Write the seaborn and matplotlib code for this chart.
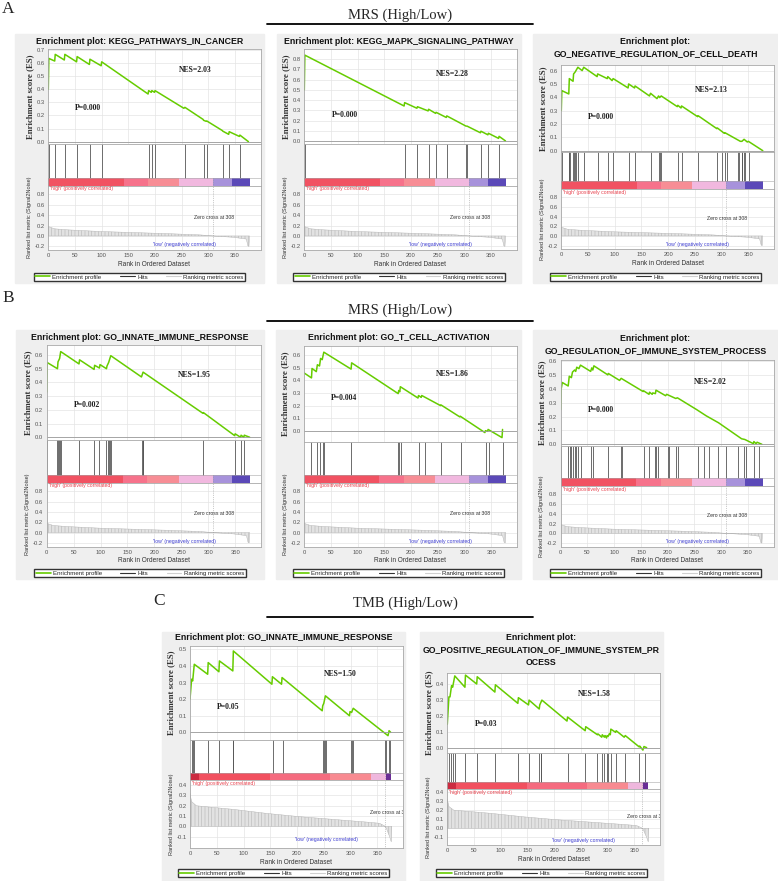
import matplotlib
matplotlib.use("Agg")
import matplotlib.pyplot as plt
from matplotlib.lines import Line2D
from matplotlib.patches import Rectangle
from matplotlib.ticker import FormatStrFormatter
import seaborn as sns

W, H = 778, 881

# ---------------- data ----------------
a1_rank = [0, 1, 12, 13, 30, 31, 53, 54, 77, 78, 99, 100, 187, 188, 193, 194, 199, 200,
           254, 256, 290, 291, 296, 297, 326, 327, 338, 339, 358, 359, 375]
a1_es = [0.40, 0.636, 0.616, 0.667, 0.624, 0.667, 0.61, 0.65, 0.59, 0.63, 0.58, 0.61, 0.364, 0.39,
         0.377, 0.39, 0.377, 0.39, 0.255, 0.262, 0.17, 0.163, 0.155, 0.158, 0.085, 0.08, 0.056,
         0.076, 0.04, 0.05, 0.0]
a1_hits = [1, 13, 31, 54, 78, 100, 188, 194, 200, 256, 291, 297, 327, 339, 359]

a2_rank = [0, 1, 187, 188, 211, 212, 232, 233, 246, 247, 266, 267, 303, 305, 330, 331, 344, 345,
           364, 365, 377]
a2_es = [0.50, 0.84, 0.342, 0.375, 0.32, 0.335, 0.294, 0.31, 0.27, 0.28, 0.23, 0.245, 0.145,
         0.145, 0.08, 0.095, 0.06, 0.075, 0.025, 0.045, 0.0]
a2_hits = [1, 188, 212, 233, 247, 267, 303, 305, 331, 345, 365]

a3_rank = [0, 1, 14, 15, 22, 23, 26, 31, 39, 42, 67, 68, 86, 87, 95, 97, 125, 126, 137, 138,
           165, 167, 179, 182, 184, 187, 217, 218, 224, 225, 255, 256, 291, 292, 305, 306, 335,
           338, 342, 348, 350, 377]
a3_es = [0.30, 0.45, 0.425, 0.54, 0.52, 0.575, 0.59, 0.625, 0.60, 0.625, 0.555, 0.575, 0.54,
         0.555, 0.525, 0.54, 0.47, 0.50, 0.47, 0.485, 0.41, 0.43, 0.39, 0.41, 0.398, 0.41, 0.33,
         0.34, 0.32, 0.335, 0.255, 0.262, 0.165, 0.17, 0.13, 0.135, 0.07, 0.07, 0.085, 0.065,
         0.07, 0.0]
a3_hits = [1, 14, 15, 17, 22, 23, 25, 27, 31, 42, 68, 87, 97, 126, 138, 167, 182, 184, 187, 218,
           225, 256, 292, 300, 306, 310, 330, 333, 338, 339, 342, 344, 352]

b1_rank = [0, 1, 20, 21, 24, 26, 60, 61, 88, 89, 98, 99, 111, 112, 115, 119, 176, 179, 290, 291,
           349, 350, 360, 361, 366, 367, 377]
b1_es = [0.33, 0.545, 0.50, 0.55, 0.575, 0.625, 0.535, 0.565, 0.495, 0.525, 0.505, 0.53, 0.50,
         0.52, 0.545, 0.595, 0.44, 0.475, 0.175, 0.18, 0.012, 0.025, 0.0, 0.015, 0.0, 0.015, 0.0]
b1_hits = [1, 20, 21, 23, 24, 26, 60, 88, 98, 111, 113, 115, 117, 119, 177, 178, 179, 290, 349,
           360, 367]

b2_rank = [0, 14, 15, 23, 25, 29, 31, 34, 37, 88, 89, 176, 177, 179, 180, 213, 214, 219, 220,
           255, 256, 291, 292, 338, 339, 343, 344, 370, 371]
b2_es = [0.46, 0.42, 0.495, 0.47, 0.525, 0.515, 0.575, 0.565, 0.625, 0.49, 0.54, 0.295, 0.32,
         0.31, 0.35, 0.26, 0.28, 0.265, 0.28, 0.20, 0.205, 0.11, 0.115, -0.015, 0.0, -0.005, 0.01,
         -0.055, 0.01]
b2_hits = [14, 25, 30, 35, 37, 88, 176, 178, 181, 215, 226, 256, 293, 341, 346, 371]

b3_rank = [0, 1, 3, 14, 16, 20, 22, 26, 28, 30, 34, 37, 56, 58, 60, 62, 88, 89, 110, 113, 154,
           155, 165, 166, 171, 172, 177, 178, 196, 198, 215, 218, 254, 272, 295, 338, 344, 360,
           361, 365, 367, 376]
b3_es = [0.25, 0.40, 0.445, 0.42, 0.49, 0.48, 0.52, 0.535, 0.525, 0.555, 0.545, 0.57, 0.525,
         0.55, 0.535, 0.565, 0.50, 0.51, 0.46, 0.475, 0.38, 0.385, 0.36, 0.375, 0.36, 0.37, 0.365,
         0.39, 0.35, 0.36, 0.33, 0.335, 0.25, 0.205, 0.155, 0.04, 0.035, 0.005, 0.02, 0.005,
         0.015, 0.0]
b3_hits = [1, 14, 17, 20, 23, 26, 29, 32, 37, 56, 60, 88, 112, 115, 155, 165, 176, 178, 181, 200,
           203, 216, 219, 257, 268, 278, 294, 308, 331, 342, 347, 362, 370]

c1_rank = [0, 3, 5, 8, 33, 34, 54, 55, 80, 81, 153, 154, 171, 172, 247, 248, 250, 253, 298, 299,
           302, 305, 370, 372, 375]
c1_es = [0.20, 0.32, 0.31, 0.41, 0.35, 0.42, 0.365, 0.43, 0.37, 0.49, 0.29, 0.335, 0.29, 0.33,
         0.13, 0.16, 0.175, 0.22, 0.10, 0.125, 0.12, 0.145, -0.02, 0.01, 0.0]
c1_hits = [3, 6, 8, 33, 54, 80, 81, 155, 173, 248, 250, 253, 255, 300, 302, 305, 364, 367, 372,
           373]

c2_rank = [0, 3, 5, 8, 10, 14, 33, 34, 55, 56, 89, 90, 132, 133, 152, 153, 172, 173, 177, 224,
           225, 258, 259, 281, 282, 289, 290, 294, 295, 298, 299, 301, 303, 305, 306, 315, 316,
           331, 333, 359, 360, 366, 368, 373]
c2_es = [0.15, 0.32, 0.32, 0.39, 0.38, 0.45, 0.38, 0.455, 0.40, 0.445, 0.35, 0.395, 0.28, 0.315,
         0.27, 0.30, 0.245, 0.27, 0.30, 0.17, 0.195, 0.11, 0.135, 0.085, 0.09, 0.07, 0.085, 0.07,
         0.08, 0.065, 0.08, 0.075, 0.09, 0.085, 0.12, 0.10, 0.11, 0.07, 0.08, 0.01, 0.015, -0.01,
         0.012, 0.005]
c2_hits = [4, 7, 10, 14, 33, 55, 89, 132, 152, 172, 175, 176, 225, 258, 281, 289, 294, 298, 301,
           306, 316, 333, 359, 369]

# ranked list metric (same dataset for A and B, another for C)
ab_metric_rank = [0, 12, 37, 99, 161, 223, 285, 308, 347, 371, 374, 376, 377]
ab_metric = [0.18, 0.137, 0.117, 0.085, 0.065, 0.045, 0.02, 0.0, -0.026, -0.06, -0.19, -0.2, 0.0]
c_metric_rank = [0, 3, 12, 31, 81, 143, 205, 267, 329, 354, 363, 367, 373, 376, 377]
c_metric = [0.32, 0.24, 0.20, 0.19, 0.165, 0.126, 0.094, 0.068, 0.042, 0.03, 0.006, -0.02,
            -0.10, -0.15, 0.0]

ab_band_edges = [0, 141, 187, 245, 309, 344, 378]
ab_band_colors = ["#f15262", "#f6728b", "#f78d95", "#f1b8df", "#a792db", "#5b49b8"]
c_band_edges = [0, 16, 149, 261, 339, 367, 376]
c_band_colors = ["#cc2b40", "#f1505f", "#f56b7f", "#f88a91", "#efb7dd", "#6a2d95"]

titles = [["Enrichment plot: KEGG_PATHWAYS_IN_CANCER"],
          ["Enrichment plot: KEGG_MAPK_SIGNALING_PATHWAY"],
          ["Enrichment plot:", "GO_NEGATIVE_REGULATION_OF_CELL_DEATH"],
          ["Enrichment plot: GO_INNATE_IMMUNE_RESPONSE"],
          ["Enrichment plot: GO_T_CELL_ACTIVATION"],
          ["Enrichment plot:", "GO_REGULATION_OF_IMMUNE_SYSTEM_PROCESS"],
          ["Enrichment plot: GO_INNATE_IMMUNE_RESPONSE"],
          ["Enrichment plot:", "GO_POSITIVE_REGULATION_OF_IMMUNE_SYSTEM_PR", "OCESS"]]
nes_labels = ["NES=2.03", "NES=2.28", "NES=2.13", "NES=1.95", "NES=1.86", "NES=2.02",
              "NES=1.50", "NES=1.58"]
p_labels = ["P=0.000", "P=0.000", "P=0.000", "P=0.002", "P=0.004", "P=0.000", "P=0.05", "P=0.03"]
zero_cross = [308, 365]

# ---------------- style ----------------
sns.set_style("white")
plt.rcParams["font.family"] = ["Liberation Sans", "DejaVu Sans"]
plt.rcParams["hatch.linewidth"] = 0.35
plt.rcParams["hatch.color"] = "#a8a8a8"

GREEN = "#66cc00"
SPINE = "#a8a8a8"
TICK = "#555555"
HIT = "#555555"

fig = plt.figure(figsize=(W / 100, H / 100), dpi=100)


def frect(l, t, r, b):
    return [l / W, 1 - b / H, (r - l) / W, (b - t) / H]


def style_ax(ax):
    for s in ax.spines.values():
        s.set_color(SPINE)
        s.set_linewidth(0.6)
    ax.tick_params(labelsize=4.2, colors=TICK, length=1.5, width=0.4, pad=1)


# geometry in pixels: box, axes x-range, title rows, (es top, es bottom, hits bottom, rank bottom)
panels = [
    dict(rank=a1_rank, es=a1_es, hits=a1_hits, box=(15, 34, 264, 283), ax_x=(48.3, 260.7),
         title_y=[42], rows=(49, 144, 185.5, 250), es_lim=(-0.018, 0.708), es_max=0.7,
         nes_xy=(275, 0.547), p_xy=(75, 0.255), legend_y=277, set="ab"),
    dict(rank=a2_rank, es=a2_es, hits=a2_hits, box=(277, 34, 521, 283), ax_x=(304.3, 516.7),
         title_y=[42], rows=(49, 144, 185.5, 250), es_lim=(-0.03, 0.9), es_max=0.8,
         nes_xy=(278, 0.656), p_xy=(76, 0.254), legend_y=277, set="ab"),
    dict(rank=a3_rank, es=a3_es, hits=a3_hits, box=(533, 34, 778, 283), ax_x=(561.3, 774),
         title_y=[41.7, 53.5], rows=(65, 152, 189, 249), es_lim=(-0.01, 0.642), es_max=0.6,
         nes_xy=(280, 0.457), p_xy=(75, 0.254), legend_y=277, set="ab"),
    dict(rank=b1_rank, es=b1_es, hits=b1_hits, box=(16, 330, 264, 579), ax_x=(46.7, 261),
         title_y=[338], rows=(345, 440, 482.5, 546.5), es_lim=(-0.02, 0.673), es_max=0.6,
         nes_xy=(275, 0.454), p_xy=(75, 0.235), legend_y=573, set="ab"),
    dict(rank=b2_rank, es=b2_es, hits=b2_hits, box=(276, 330, 521, 579), ax_x=(304, 517),
         title_y=[338], rows=(346, 442, 482.5, 546.5), es_lim=(-0.09, 0.674), es_max=0.6,
         nes_xy=(278, 0.45), p_xy=(75, 0.257), legend_y=573, set="ab"),
    dict(rank=b3_rank, es=b3_es, hits=b3_hits, box=(533, 330, 778, 579), ax_x=(560.7, 773.7),
         title_y=[338.3, 350.7], rows=(360, 446, 486, 546.5), es_lim=(-0.012, 0.607),
         es_max=0.6, nes_xy=(279, 0.45), p_xy=(76, 0.25), legend_y=573, set="ab"),
    dict(rank=c1_rank, es=c1_es, hits=c1_hits, box=(162, 632, 405, 881), ax_x=(190, 403),
         title_y=[637], rows=(646, 740, 780, 848), es_lim=(-0.046, 0.52), es_max=0.5,
         nes_xy=(280, 0.35), p_xy=(72, 0.15), legend_y=873, set="c"),
    dict(rank=c2_rank, es=c2_es, hits=c2_hits, box=(420, 632, 663, 881), ax_x=(447.3, 660),
         title_y=[637.3, 649.3, 662.7], rows=(672.7, 753.3, 789.3, 845), es_lim=(-0.03, 0.47),
         es_max=0.4, nes_xy=(276, 0.34), p_xy=(72, 0.15), legend_y=873, set="c"),
]

legend_handles = [Line2D([], [], color=GREEN, lw=1.2),
                  Line2D([], [], color="#333333", lw=0.8),
                  Line2D([], [], color="#d0d0d0", lw=0.8)]
legend_labels = ["Enrichment profile", "Hits", "Ranking metric scores"]

XMAX = 398
for i, p in enumerate(panels):
    l, t, r, b = p["box"]
    fig.patches.append(Rectangle((l / W, 1 - b / H), (r - l) / W, (b - t) / H,
                                 transform=fig.transFigure, color="#efefef", zorder=-10))
    for line, ty in zip(titles[i], p["title_y"]):
        fig.text((l + r) / 2 / W, 1 - ty / H, line, ha="center", va="center",
                 fontsize=6.35, fontweight="bold", color="#111111")

    x0, x1 = p["ax_x"]
    es_t, es_b, hit_b, rk_b = p["rows"]
    ax_es = fig.add_axes(frect(x0, es_t, x1, es_b))
    ax_hit = fig.add_axes(frect(x0, es_b, x1, hit_b))
    ax_rk = fig.add_axes(frect(x0, hit_b, x1, rk_b))
    xticks = list(range(0, 351, 50))

    # enrichment profile
    sns.lineplot(x=p["rank"], y=p["es"], sort=False, estimator=None, color=GREEN, lw=1.1,
                 ax=ax_es)
    ax_es.axhline(0, color="#9a9a9a", lw=0.6)
    ax_es.set_xlim(0, XMAX)
    ax_es.set_ylim(*p["es_lim"])
    ax_es.set_xticks(xticks)
    ax_es.set_xticklabels([])
    ax_es.set_yticks([k / 10 for k in range(0, int(round(p["es_max"] * 10)) + 1)])
    ax_es.yaxis.set_major_formatter(FormatStrFormatter("%.1f"))
    ax_es.grid(True, color="#e4e4e4", lw=0.5)
    style_ax(ax_es)
    ax_es.tick_params(axis="x", length=0)
    ax_es.set_xlabel("")
    ax_es.set_ylabel("Enrichment score (ES)", fontsize=6.3, fontweight="bold",
                     family=["Liberation Serif"], color="#333333", labelpad=2)
    ax_es.text(*p["nes_xy"], nes_labels[i], ha="center", va="center", fontsize=5.6,
               fontweight="bold", family=["Liberation Serif"], color="#222222")
    ax_es.text(*p["p_xy"], p_labels[i], ha="center", va="center", fontsize=5.6,
               fontweight="bold", family=["Liberation Serif"], color="#222222")

    # hits and colour band
    if p["set"] == "ab":
        edges, colors = ab_band_edges, ab_band_colors
        m_rank, m_val, zc = ab_metric_rank, ab_metric, zero_cross[0]
        rk_lim, rk_ticks = (-0.27, 0.97), [-0.2, 0.0, 0.2, 0.4, 0.6, 0.8]
    else:
        edges, colors = c_band_edges, c_band_colors
        m_rank, m_val, zc = c_metric_rank, c_metric, zero_cross[1]
        rk_lim = (-0.21, 0.45) if i == 6 else (-0.185, 0.43)
        rk_ticks = [-0.1, 0.0, 0.1, 0.2, 0.3, 0.4]
    hit_h = hit_b - es_b
    band = (8 if p["set"] == "ab" else 7) / hit_h
    ax_hit.vlines(p["hits"], band, 1.0, color=HIT, lw=0.6)
    for e0, e1, c in zip(edges[:-1], edges[1:], colors):
        ax_hit.axvspan(e0, e1, ymin=0.0, ymax=band, color=c, lw=0)
    ax_hit.axhline(band, color=SPINE, lw=0.4)
    ax_hit.vlines([zc], 0, band, color="#999999", lw=0.5, ls=":")
    ax_hit.set_xlim(0, XMAX)
    ax_hit.set_ylim(0, 1)
    ax_hit.set_xticks([])
    ax_hit.set_yticks([])
    style_ax(ax_hit)

    # ranked list metric
    ax_rk.fill_between(m_rank, m_val, 0, facecolor="#e2e2e2", edgecolor="#b0b0b0",
                       hatch="|||||", lw=0.3)
    ax_rk.axvline(zc, color="#9a9a9a", lw=0.5, ls=":")
    ax_rk.set_xlim(0, XMAX)
    ax_rk.set_ylim(*rk_lim)
    ax_rk.set_xticks(xticks)
    ax_rk.set_yticks(rk_ticks)
    ax_rk.yaxis.set_major_formatter(FormatStrFormatter("%.1f"))
    ax_rk.grid(True, color="#e4e4e4", lw=0.5)
    style_ax(ax_rk)
    ax_rk.set_xlabel("Rank in Ordered Dataset", fontsize=4.7, color="#333333", labelpad=1.5)
    ax_rk.set_ylabel("Ranked list metric (Signal2Noise)", fontsize=4.0, color="#333333",
                     labelpad=2)
    ax_rk.text(0.01, 0.985, "'high' (positively correlated)", transform=ax_rk.transAxes,
               ha="left", va="top", fontsize=3.7, color="#e8404c")
    if p["set"] == "ab":
        ax_rk.text(255, -0.17, "'low' (negatively correlated)", ha="center", va="center",
                   fontsize=3.7, color="#3b3bd0")
        ax_rk.text(310, 0.36, f"Zero cross at {zc}", ha="center", va="center", fontsize=3.7,
                   color="#333333")
    else:
        ax_rk.text(255, -0.13, "'low' (negatively correlated)", ha="center", va="center",
                   fontsize=3.7, color="#3b3bd0")
        ax_rk.text(336, 0.135, f"Zero cross at {zc}", ha="left", va="center", fontsize=3.7,
                   color="#333333", clip_on=True)

    fig.legend(legend_handles, legend_labels, loc="center",
               bbox_to_anchor=((l + r) / 2 / W, 1 - p["legend_y"] / H), ncol=3,
               fontsize=4.4, frameon=True, fancybox=False, edgecolor="#333333",
               framealpha=1, handlelength=2.4, columnspacing=3.0, handletextpad=0.4,
               borderpad=0.3)

# section headers and panel letters
serif = ["Liberation Serif"]
for label, y_txt, y_line, x_c in [("MRS (High/Low)", 15, 24, 400),
                                  ("MRS (High/Low)", 310, 321, 400),
                                  ("TMB (High/Low)", 603, 617, 405)]:
    fig.text(x_c / W, 1 - y_txt / H, label, ha="center", va="center", fontsize=10.5,
             family=serif)
    fig.add_artist(Line2D([267 / W, 533 / W], [1 - y_line / H, 1 - y_line / H],
                          color="black", lw=1.3, transform=fig.transFigure))
for letter, x, y in [("A", 2, 9), ("B", 2, 298), ("C", 153, 601)]:
    fig.text(x / W, 1 - y / H, letter, ha="left", va="center", fontsize=12.5, family=serif)

fig.savefig("out.png", dpi=100)
